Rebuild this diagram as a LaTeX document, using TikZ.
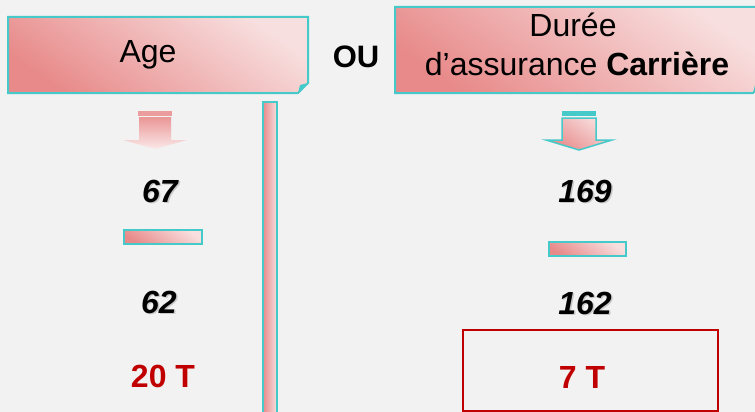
\documentclass[tikz,border=0pt]{standalone}
\usepackage{fontspec}
\setmainfont{Liberation Sans}
\begin{document}
\begin{tikzpicture}[x=1pt,y=-1pt,
  every node/.style={inner sep=0pt,outer sep=0pt},
  big/.style={font=\fontsize{32}{38}\selectfont},
  num/.style={big,font=\fontsize{32}{38}\selectfont\bfseries\itshape},
  rednum/.style={big,font=\fontsize{32}{38}\selectfont\bfseries,text=redT},
  pinkfill/.style={top color=pinkL,bottom color=pinkD,shading angle=-35},
  rim/.style={draw=cyanB,line width=2pt},
]
\definecolor{bg}{HTML}{F2F2F2}
\definecolor{pinkD}{HTML}{E88A8A}
\definecolor{pinkL}{HTML}{F8DFDF}
\definecolor{cyanB}{HTML}{45C9C9}
\definecolor{redT}{HTML}{C00000}
\definecolor{shadowG}{HTML}{C8C8C8}

% page and clipping
\fill[bg] (0,0) rectangle (755,412);
\useasboundingbox (0,0) rectangle (755,412);
\clip (0,0) rectangle (755,412);

% header boxes with folded corner
\shade[pinkfill] (8,17) -- (308,17) -- (308,83) -- (298,93) -- (8,93) -- cycle;
\draw[rim] (8,17) -- (308,17) -- (308,83) -- (298,93) -- (8,93) -- cycle;
\fill[cyanB] (308,83) -- (298,93) -- (300,85) -- cycle;

\shade[pinkfill] (395,7) -- (763,7) -- (763,83) -- (753,93) -- (395,93) -- cycle;
\draw[rim] (395,7) -- (763,7) -- (763,83) -- (753,93) -- (395,93) -- cycle;
\fill[cyanB] (763,83) -- (753,93) -- (755,85) -- cycle;

\node[big,anchor=base] (age) at (148,63) {Age};
\node[big,anchor=base,font=\fontsize{31}{36}\selectfont\bfseries] (ou) at (356,67) {OU};
\node[big,anchor=base] (duree) at (573,37) {Durée};
\node[big,anchor=base] (assur) at (577,75) {d’assurance \textbf{Carrière}};

% vertical separator
\shade[left color=pinkD,right color=pinkL] (263,102) rectangle (277,416);
\draw[rim] (263,102) rectangle (277,416);

% left arrow
\fill[pinkD!85!white] (138,111) rectangle (172,116);
\shade[top color=pinkD!90!white,bottom color=pinkL!70!white]
  (139,117) -- (171,117) -- (171,140) -- (187,140) -- (155,149) -- (123,140) -- (139,140) -- cycle;

% right arrow
\fill[cyanB] (562,111) rectangle (596,116);
\shade[pinkfill] (562,118) -- (596,118) -- (596,140) -- (612,140) -- (579,150) -- (546,140) -- (562,140) -- cycle;
\draw[draw=cyanB,line width=1.5pt,line join=miter]
  (562,118) -- (596,118) -- (596,140) -- (612,140) -- (579,150) -- (546,140) -- (562,140) -- cycle;

% small bars
\shade[pinkfill] (124,230) rectangle (202,244);
\draw[rim] (124,230) rectangle (202,244);
\shade[pinkfill] (549,242) rectangle (626,256);
\draw[rim] (549,242) rectangle (626,256);

% numbers with soft shadow
\foreach \x/\y/\t/\n in {160/202/67/a, 585/202/169/b, 159/313/62/c, 585/314/162/d}{
  \node[num,anchor=base,text=shadowG] (s\n) at (\x+1.5,\y+1.5) {\t};
  \node[num,anchor=base] (n\n) at (\x,\y) {\t};
}

% results
\node[rednum,anchor=base] (left) at (163,387) {20 T};
\draw[draw=redT,line width=1.5pt] (463,330) rectangle (718,411);
\node[rednum,anchor=base] (right) at (582,388) {7 T};
\end{tikzpicture}
\end{document}
